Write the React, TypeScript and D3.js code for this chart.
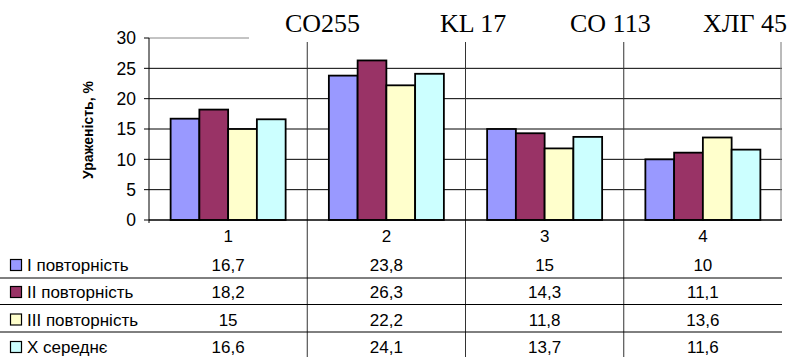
import React from "react";
import * as d3 from "d3";

const categories = ["1", "2", "3", "4"];
const seriesNames = ["I повторність", "II повторність", "III повторність", "X середнє"];
const seriesI = [16.7, 23.8, 15, 10];
const seriesII = [18.2, 26.3, 14.3, 11.1];
const seriesIII = [15, 22.2, 11.8, 13.6];
const seriesMean = [16.6, 24.1, 13.7, 11.6];
const tableLabels = [
  ["16,7", "23,8", "15", "10"],
  ["18,2", "26,3", "14,3", "11,1"],
  ["15", "22,2", "11,8", "13,6"],
  ["16,6", "24,1", "13,7", "11,6"],
];
const yTicks = [0, 5, 10, 15, 20, 25, 30];
const varieties = ["CO255", "KL 17", "CO 113", "ХЛГ 45"];
const varietyX = [285, 440, 570, 703];
const colors = ["#9999FF", "#993366", "#FFFFCC", "#CCFFFF"];

const W = 789;
const H = 357;
const left = 149;
const right = 782;
const top = 38;
const bottom = 220;

export default function App() {
  const series = [seriesI, seriesII, seriesIII, seriesMean];
  const x = d3.scaleBand<string>().domain(categories).range([left, right]).padding(0);
  const inner = d3
    .scaleBand<number>()
    .domain([0, 1, 2, 3])
    .range([0, x.bandwidth()])
    .paddingInner(0)
    .paddingOuter(0.752);
  const y = d3.scaleLinear().domain([0, 30]).range([bottom, top]);
  const rowY = [236, 265, 292, 319.5, 347];
  const lineY = [278, 304.5, 332];
  const font = "Arial, 'Liberation Sans', sans-serif";

  return (
    <svg
      width={W}
      height={H}
      style={{ position: "absolute", left: 0, top: 0, background: "#fff" }}
      fontFamily={font}
    >
      {/* gridlines */}
      {yTicks.filter((t) => t > 0 && t < 30).map((t) => (
        <line key={t} x1={left} x2={right} y1={y(t)} y2={y(t)} stroke="#000" strokeWidth={1} />
      ))}
      <line x1={left} x2={249} y1={y(30)} y2={y(30)} stroke="#888" strokeWidth={1} />
      {/* category separators */}
      {categories.slice(1).map((c) => (
        <line key={c} x1={x(c)!} x2={x(c)!} y1={42} y2={H} stroke="#333" strokeWidth={1} />
      ))}
      <line x1={right - 1} x2={right - 1} y1={42} y2={bottom} stroke="#777" strokeWidth={1} />
      {/* bars */}
      {series.map((s, si) =>
        s.map((v, ci) => {
          const bx = x(categories[ci])! + inner(si)!;
          return (
            <rect
              key={si + "-" + ci}
              x={bx}
              y={y(v)}
              width={inner.bandwidth()}
              height={y(0) - y(v)}
              fill={colors[si]}
              stroke="#000"
              strokeWidth={1.8}
            />
          );
        })
      )}
      {/* axes */}
      <line x1={left} x2={left} y1={y(30)} y2={bottom} stroke="#000" strokeWidth={1} />
      <line x1={left} x2={right} y1={bottom} y2={bottom} stroke="#000" strokeWidth={1.5} />
      {yTicks.map((t) => (
        <g key={t}>
          <line x1={left - 5} x2={left} y1={y(t)} y2={y(t)} stroke="#000" />
          <text x={136} y={y(t)} dy="0.36em" textAnchor="end" fontSize={17.5}>
            {t}
          </text>
        </g>
      ))}
      <line x1={left} x2={left} y1={bottom} y2={bottom + 3} stroke="#000" />
      <text
        transform={`translate(93,130) rotate(-90)`}
        textAnchor="middle"
        fontSize={14}
        fontWeight="bold"
      >
        Ураженість, %
      </text>
      {/* variety titles */}
      {varieties.map((v, i) => (
        <text key={v} x={varietyX[i]} y={32} fontSize={26} fontFamily="'Times New Roman', 'Liberation Serif', serif">
          {v}
        </text>
      ))}
      {/* data table */}
      {categories.map((c) => (
        <text key={c} x={x(c)! + x.bandwidth() / 2} y={rowY[0]} dy="0.36em" textAnchor="middle" fontSize={17}>
          {c}
        </text>
      ))}
      {lineY.map((ly, i) => (
        <line key={i} x1={0} x2={right} y1={ly} y2={ly} stroke="#000" strokeWidth={1} />
      ))}
      {seriesNames.map((name, si) => (
        <g key={name}>
          <rect x={10.5} y={rowY[si + 1] - 5.5} width={11} height={11} fill={colors[si]} stroke="#000" strokeWidth={1.2} />
          <text x={27} y={rowY[si + 1]} dy="0.36em" fontSize={17}>
            {name}
          </text>
          {categories.map((c, ci) => (
            <text
              key={c}
              x={x(c)! + x.bandwidth() / 2}
              y={rowY[si + 1]}
              dy="0.36em"
              textAnchor="middle"
              fontSize={17}
            >
              {tableLabels[si][ci]}
            </text>
          ))}
        </g>
      ))}
    </svg>
  );
}
